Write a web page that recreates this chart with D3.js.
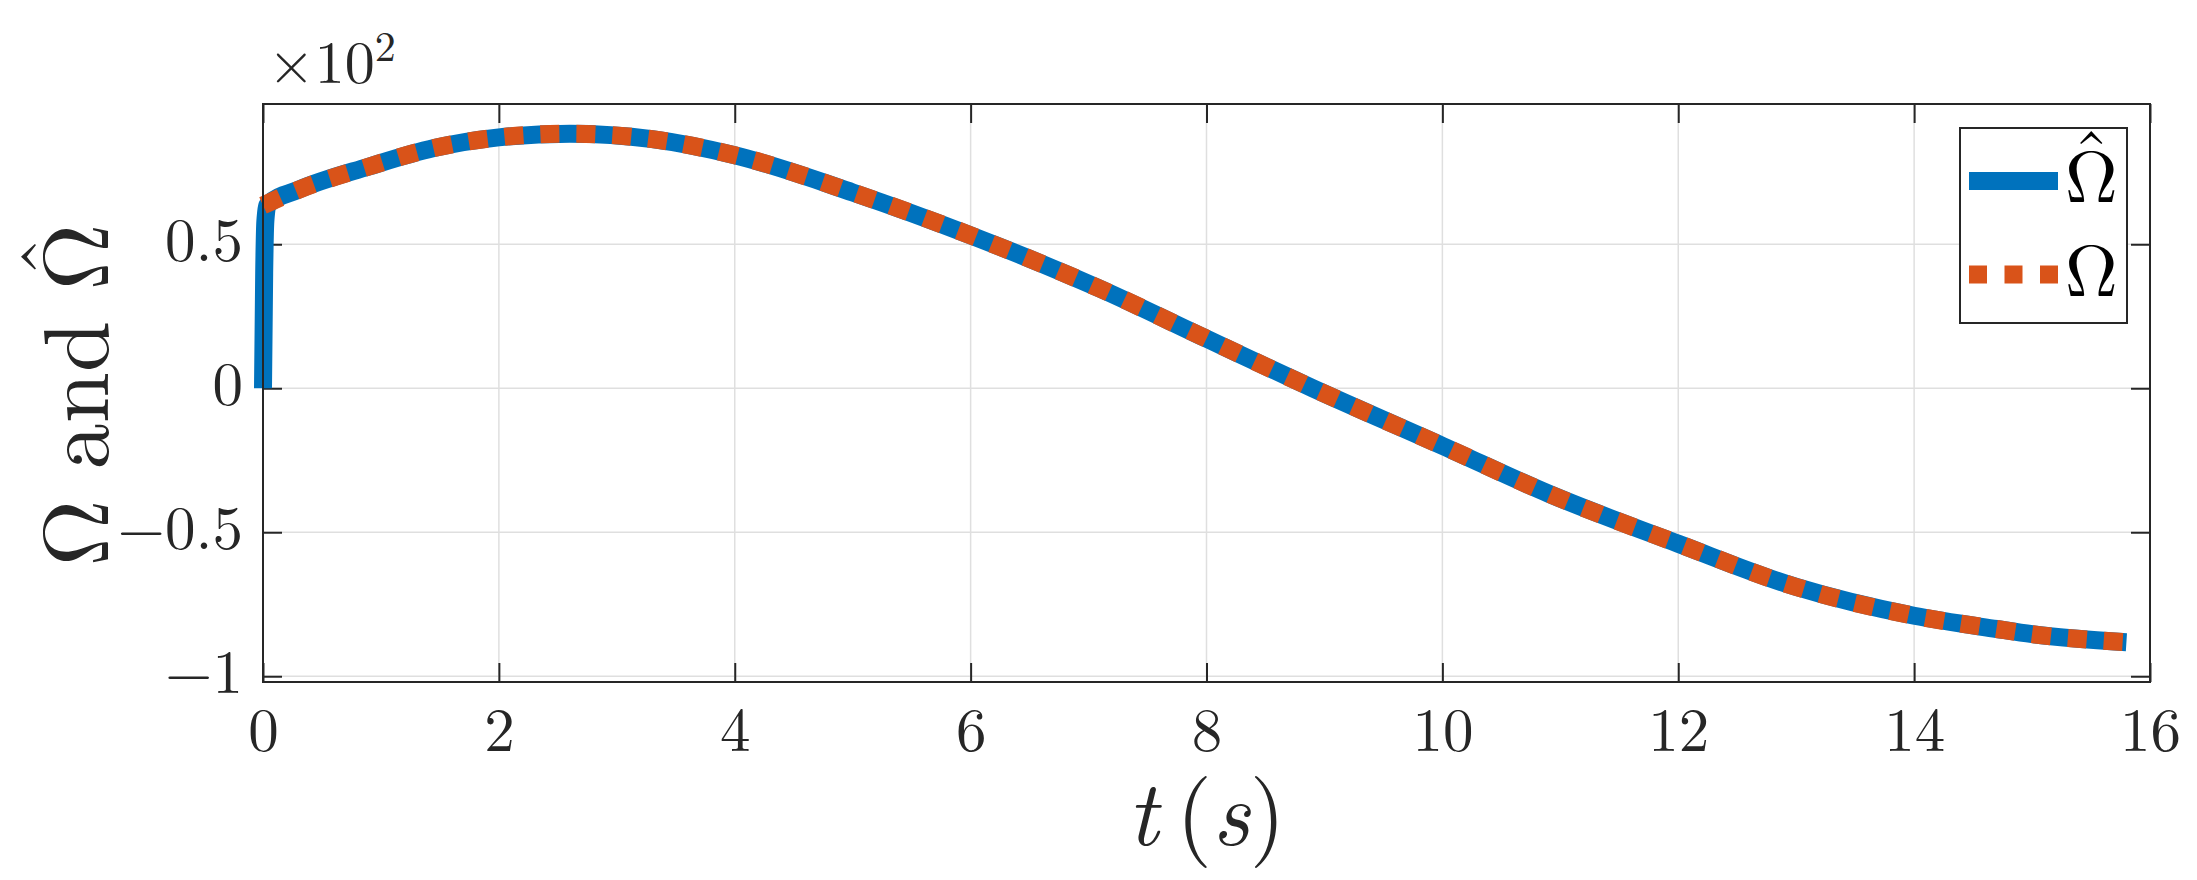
<!DOCTYPE html>
<html>
<head>
<meta charset="utf-8">
<script src="https://cdn.jsdelivr.net/npm/d3@7"></script>
<style>
  html, body { margin: 0; padding: 0; background: #fff; }
  svg { display: block; }
</style>
</head>
<body>
<svg id="chart" width="2197" height="880"></svg>
<script>
// ---- data (values in rad/s; axis shows ×10^2) ----
const tOmega = [0, 0.3, 0.9, 1.45, 2, 2.6, 3.3, 4, 5, 6, 7.1, 8, 8.9, 10, 10.9, 12, 13, 14, 14.7, 15, 15.8];
const omega  = [63.5, 68.9, 77, 83.4, 87.1, 88.4, 86.5, 80.9, 68, 53.1, 34.5, 17.2, 0, -20, -36.6, -54, -69, -79, -83.6, -85.4, -88.2];

const tOmegaHat = [0, 0.01, 0.02, 0.04, 0.3, 0.9, 1.45, 2, 2.6, 3.3, 4, 5, 6, 7.1, 8, 8.9, 10, 10.9, 12, 13, 14, 14.7, 15, 15.8];
const omegaHat  = [0, 40, 58, 63.8, 68.9, 77, 83.4, 87.1, 88.4, 86.5, 80.9, 68, 53.1, 34.5, 17.2, 0, -20, -36.6, -54, -69, -79, -83.6, -85.4, -88.2];

const xTicks = [0, 2, 4, 6, 8, 10, 12, 14, 16];
const xTickLabels = ["0", "2", "4", "6", "8", "10", "12", "14", "16"];
const yTicks = [-100, -50, 0, 50];
const yTickLabels = ["\u22121", "\u22120.5", "0", "0.5"];

const legendLabels = ["\u03A9", "\u03A9"];
const legendHat = [true, false];
const colors = ["#0072BD", "#D95319"];

// ---- layout ----
const FONTNAME = "Latin Modern Roman";
const FONT = '"Latin Modern Roman", "CMU Serif", "Liberation Serif", serif';
const INK = "#262626";
const L = 263, R = 2150, T = 104, B = 682;
const svg = d3.select("#chart");

const x = d3.scaleLinear().domain([0, 16]).range([L, R]);
const y = d3.scaleLinear().domain([-102.0, 98.7]).range([B, T]);

// ink metrics via canvas
const ctx = document.createElement("canvas").getContext("2d");
function ink(str, size) {
  ctx.font = `${size}px "${FONTNAME}"`;
  const m = ctx.measureText(str);
  return { asc: m.actualBoundingBoxAscent, desc: m.actualBoundingBoxDescent,
           left: m.actualBoundingBoxLeft, right: m.actualBoundingBoxRight, width: m.width };
}
// circumflex accent centred at cx, its ink bottom `gap` px above inkTopY (local coords)
function addHat(parent, cx, inkTopY, size, gap, fill) {
  const m = ink("\u02C6", size);
  const hx = cx - (m.right - m.left) / 2;
  const hy = inkTopY - gap - m.desc;
  return parent.append("text").attr("x", hx).attr("y", hy)
    .style("font-family", FONT).style("font-size", size + "px").attr("fill", fill).text("\u02C6");
}

// grid
const grid = svg.append("g").attr("stroke", "#dfdfdf").attr("stroke-width", 1.5);
grid.selectAll("line.gx").data(xTicks).join("line").attr("class", "gx")
  .attr("x1", d => x(d)).attr("x2", d => x(d)).attr("y1", T).attr("y2", B);
grid.selectAll("line.gy").data(yTicks).join("line").attr("class", "gy")
  .attr("x1", L).attr("x2", R).attr("y1", d => y(d)).attr("y2", d => y(d));

// axes with inward ticks
const tickLen = 19;
const fs = 61;
const xAxis = d3.axisBottom(x).tickValues(xTicks).tickSizeInner(-tickLen).tickSizeOuter(0).tickPadding(26)
  .tickFormat((d, i) => xTickLabels[i]);
const gx = svg.append("g").attr("transform", `translate(0,${B})`).call(xAxis);
const xTop = d3.axisTop(x).tickValues(xTicks).tickSizeInner(-tickLen).tickSizeOuter(0).tickFormat("");
const gxt = svg.append("g").attr("transform", `translate(0,${T})`).call(xTop);

const yAxis = d3.axisLeft(y).tickValues(yTicks).tickSizeInner(-tickLen).tickSizeOuter(0).tickPadding(20)
  .tickFormat((d, i) => yTickLabels[i]);
const gy = svg.append("g").attr("transform", `translate(${L},0)`).call(yAxis);
const yRight = d3.axisRight(y).tickValues(yTicks).tickSizeInner(-tickLen).tickSizeOuter(0).tickFormat("");
const gyr = svg.append("g").attr("transform", `translate(${R},0)`).call(yRight);

[gx, gxt, gy, gyr].forEach(g => {
  g.select(".domain").remove();
  g.selectAll(".tick line").attr("stroke", INK).attr("stroke-width", 2);
  g.selectAll(".tick text").style("font-family", FONT).style("font-size", fs + "px").attr("fill", INK);
});
gy.selectAll(".tick text").attr("dy", "0.27em");

// lines
const lineHat = d3.line().x((d, i) => x(tOmegaHat[i])).y(d => y(d)).curve(d3.curveMonotoneX);
const lineOm = d3.line().x((d, i) => x(tOmega[i])).y(d => y(d)).curve(d3.curveMonotoneX);

const plot = svg.append("g");
plot.append("path").datum(omegaHat).attr("d", lineHat)
  .attr("fill", "none").attr("stroke", colors[0]).attr("stroke-width", 18)
  .attr("stroke-linejoin", "round").attr("stroke-linecap", "butt");
plot.append("path").datum(omega).attr("d", lineOm)
  .attr("fill", "none").attr("stroke", colors[1]).attr("stroke-width", 18)
  .attr("stroke-dasharray", "19 17").attr("stroke-linecap", "butt");

// frame
svg.append("rect").attr("x", L).attr("y", T).attr("width", R - L).attr("height", B - T)
  .attr("fill", "none").attr("stroke", INK).attr("stroke-width", 2);

// exponent
const ex = svg.append("text").attr("x", 268).attr("y", 83).style("font-family", FONT)
  .style("font-size", "60px").attr("fill", INK);
ex.append("tspan").text("\u00D710");
ex.append("tspan").style("font-size", "42px").attr("dy", -22).text("2");

// legend
const lg = svg.append("g");
lg.append("rect").attr("x", 1960).attr("y", 128).attr("width", 167).attr("height", 195)
  .attr("fill", "#fff").attr("stroke", INK).attr("stroke-width", 2);
const legY = [181, 274.5];
const legFs = 73;
lg.selectAll("line.leg").data(legendLabels).join("line").attr("class", "leg")
  .attr("x1", 1969).attr("x2", 2058)
  .attr("y1", (d, i) => legY[i]).attr("y2", (d, i) => legY[i])
  .attr("stroke", (d, i) => colors[i]).attr("stroke-width", 18)
  .attr("stroke-dasharray", (d, i) => i === 1 ? "18 17.5" : null);
const legX = 2065;
lg.selectAll("text.leg").data(legendLabels).join("text").attr("class", "leg")
  .attr("x", legX).attr("y", (d, i) => legY[i] + 21)
  .style("font-family", FONT).style("font-size", legFs + "px").attr("fill", "#000").text(d => d);
legendLabels.forEach((d, i) => {
  if (!legendHat[i]) return;
  const m = ink(d, legFs);
  const cx = legX + (m.right - m.left) / 2;
  addHat(lg, cx, legY[i] + 21 - m.asc, legFs, 7, "#000");
});

// axis labels
const xl = svg.append("text").attr("x", (L + R) / 2).attr("y", 845).attr("text-anchor", "middle")
  .style("font-family", FONT).style("font-size", "92px").attr("fill", INK);
xl.append("tspan").style("font-style", "italic").text("t");
xl.append("tspan").text("\u2009(");
xl.append("tspan").style("font-style", "italic").text("s");
xl.append("tspan").text(")");

// y label (rotated), hat over the last Omega
const yFs = 92;
const ylg = svg.append("g").attr("transform", `translate(108,395) rotate(-90)`);
const ylt = ylg.append("text").attr("x", 0).attr("y", 0)
  .style("font-family", FONT).style("font-size", yFs + "px").attr("fill", INK)
  .text("\u03A9 and \u03A9");
{
  const node = ylt.node();
  const len = node.getComputedTextLength();
  ylt.attr("x", -len / 2);
  const sx = -len / 2 + node.getSubStringLength(0, 6);
  const m = ink("\u03A9", yFs);
  addHat(ylg, sx + (m.right - m.left) / 2, -m.asc, 84, 7, INK);
}
</script>
</body>
</html>
